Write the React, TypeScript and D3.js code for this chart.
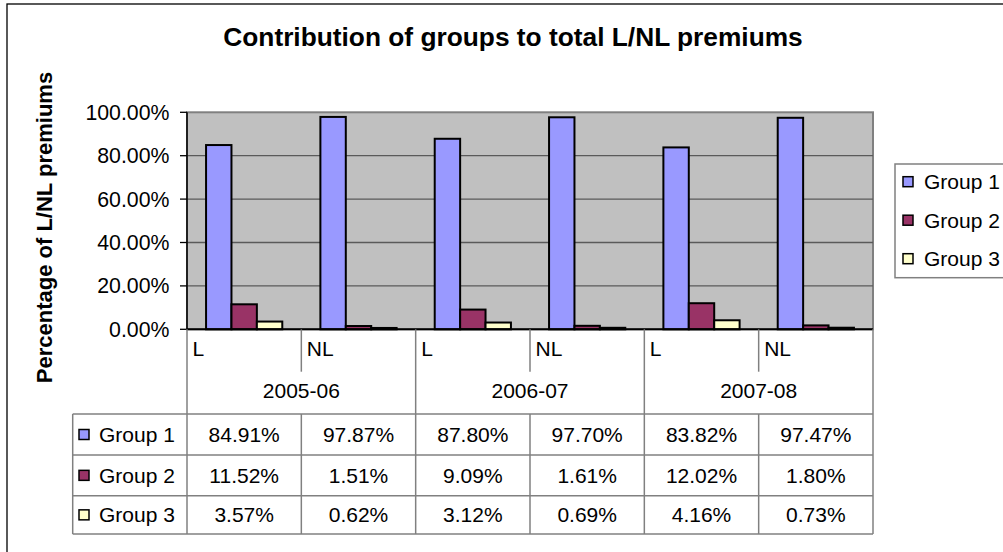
import React from 'react';
import * as d3 from 'd3';

const years = ['2005-06', '2006-07', '2007-08'];
const types = ['L', 'NL'];
const categories = ['2005-06 L', '2005-06 NL', '2006-07 L', '2006-07 NL', '2007-08 L', '2007-08 NL'];
const seriesNames = ['Group 1', 'Group 2', 'Group 3'];
const group1 = [84.91, 97.87, 87.8, 97.7, 83.82, 97.47];
const group2 = [11.52, 1.51, 9.09, 1.61, 12.02, 1.8];
const group3 = [3.57, 0.62, 3.12, 0.69, 4.16, 0.73];
const yTicks = [0, 20, 40, 60, 80, 100];
const colors = ['#9999FF', '#993366', '#FFFFCC'];

const W = 1003;
const H = 552;
const FONT = '"Liberation Sans", Arial, sans-serif';

export default function App() {
  const series = [group1, group2, group3];
  const plotL = 187, plotR = 873, plotT = 112.3, plotB = 329.3;
  const x = d3.scaleBand<string>().domain(categories).range([plotL, plotR]).paddingInner(0).paddingOuter(0);
  const xi = d3.scaleBand<string>().domain(seriesNames).range([0, x.bandwidth()]).paddingInner(0).paddingOuter(0.75);
  const y = d3.scaleLinear().domain([0, 100]).range([plotB, plotT]);
  const fmt = (v: number) => v.toFixed(2) + '%';

  const tableL = 72.7;
  const rowY = [414, 455, 495.7, 534];
  const yearW = x.bandwidth() * types.length;

  return (
    <svg width={W} height={H} style={{ position: 'absolute', left: 0, top: 0, background: '#fff' }} fontFamily={FONT}>
      <rect x={0} y={0} width={W} height={H} fill="#fff" />
      <rect x={7} y={4} width={W + 20} height={H + 20} fill="none" stroke="#000" strokeWidth={1.3} />
      <text x={513} y={45.5} textAnchor="middle" fontSize={26.3} fontWeight="bold" fill="#000">
        Contribution of groups to total L/NL premiums
      </text>
      <text transform={`translate(51.5, ${227.5}) rotate(-90)`} textAnchor="middle" fontSize={22} fontWeight="bold" fill="#000">
        Percentage of L/NL premiums
      </text>

      {/* plot area */}
      <rect x={plotL} y={plotT} width={plotR - plotL} height={plotB - plotT} fill="#C0C0C0" stroke="#808080" strokeWidth={2} />
      {yTicks.map((t) => (
        <g key={t}>
          {t > 0 && t < 100 && <line x1={plotL} x2={plotR} y1={y(t)} y2={y(t)} stroke="#5a5a5a" strokeWidth={1.3} />}
          <line x1={180} x2={plotL} y1={y(t)} y2={y(t)} stroke="#000" strokeWidth={1.3} />
          <text x={169.5} y={y(t) + 7.5} textAnchor="end" fontSize={21.3} fill="#000">{fmt(t)}</text>
        </g>
      ))}
      <line x1={plotL} x2={plotL} y1={plotT} y2={plotB} stroke="#000" strokeWidth={1.5} />

      {/* bars */}
      {categories.map((c, ci) => (
        <g key={c}>
          {series.map((s, si) => (
            <rect
              key={si}
              x={(x(c) as number) + (xi(seriesNames[si]) as number)}
              y={y(s[ci])}
              width={xi.bandwidth()}
              height={plotB - y(s[ci])}
              fill={colors[si]}
              stroke="#000"
              strokeWidth={2}
            />
          ))}
        </g>
      ))}
      <line x1={plotL} x2={plotR} y1={plotB} y2={plotB} stroke="#000" strokeWidth={2} />

      {/* category axis: L / NL labels */}
      {categories.map((c, ci) => (
        <g key={'lab' + c}>
          <text x={(x(c) as number) + 5.5} y={356} fontSize={21} fill="#000">{types[ci % 2]}</text>
          {ci % 2 === 1 && (
            <line x1={x(c) as number} x2={x(c) as number} y1={plotB} y2={371.7} stroke="#808080" strokeWidth={1.5} />
          )}
        </g>
      ))}
      {years.map((yr, yi) => (
        <g key={yr}>
          <text x={plotL + yearW * yi + yearW / 2} y={398} textAnchor="middle" fontSize={21} fill="#000">{yr}</text>
          <line x1={plotL + yearW * yi} x2={plotL + yearW * yi} y1={plotB} y2={rowY[0]} stroke="#808080" strokeWidth={1.5} />
        </g>
      ))}
      <line x1={plotR} x2={plotR} y1={plotB} y2={rowY[0]} stroke="#808080" strokeWidth={1.5} />

      {/* data table */}
      {rowY.map((ry, i) => (
        <line key={'h' + i} x1={tableL} x2={plotR} y1={ry} y2={ry} stroke="#808080" strokeWidth={1.5} />
      ))}
      <line x1={tableL} x2={tableL} y1={rowY[0]} y2={rowY[3]} stroke="#808080" strokeWidth={1.5} />
      {categories.map((c) => (
        <line key={'v' + c} x1={x(c) as number} x2={x(c) as number} y1={rowY[0]} y2={rowY[3]} stroke="#808080" strokeWidth={1.5} />
      ))}
      <line x1={plotR} x2={plotR} y1={rowY[0]} y2={rowY[3]} stroke="#808080" strokeWidth={1.5} />
      {series.map((s, si) => {
        const cy = (rowY[si] + rowY[si + 1]) / 2;
        return (
          <g key={'row' + si}>
            <rect x={79} y={cy - 5} width={10} height={10} fill={colors[si]} stroke="#000" strokeWidth={1.5} />
            <text x={99} y={cy + 7.5} fontSize={21} fill="#000">{seriesNames[si]}</text>
            {categories.map((c, ci) => (
              <text key={c} x={(x(c) as number) + x.bandwidth() / 2} y={cy + 7.5} textAnchor="middle" fontSize={21} fill="#000">
                {fmt(s[ci])}
              </text>
            ))}
          </g>
        );
      })}

      {/* legend */}
      <rect x={895} y={164} width={130} height={113.7} fill="#fff" stroke="#808080" strokeWidth={1.5} />
      {seriesNames.map((n, i) => {
        const cy = 181.7 + i * 38.5;
        return (
          <g key={'leg' + n}>
            <rect x={903} y={cy - 5} width={10} height={10} fill={colors[i]} stroke="#000" strokeWidth={1.5} />
            <text x={924} y={cy + 7.5} fontSize={21} fill="#000">{n}</text>
          </g>
        );
      })}
    </svg>
  );
}
